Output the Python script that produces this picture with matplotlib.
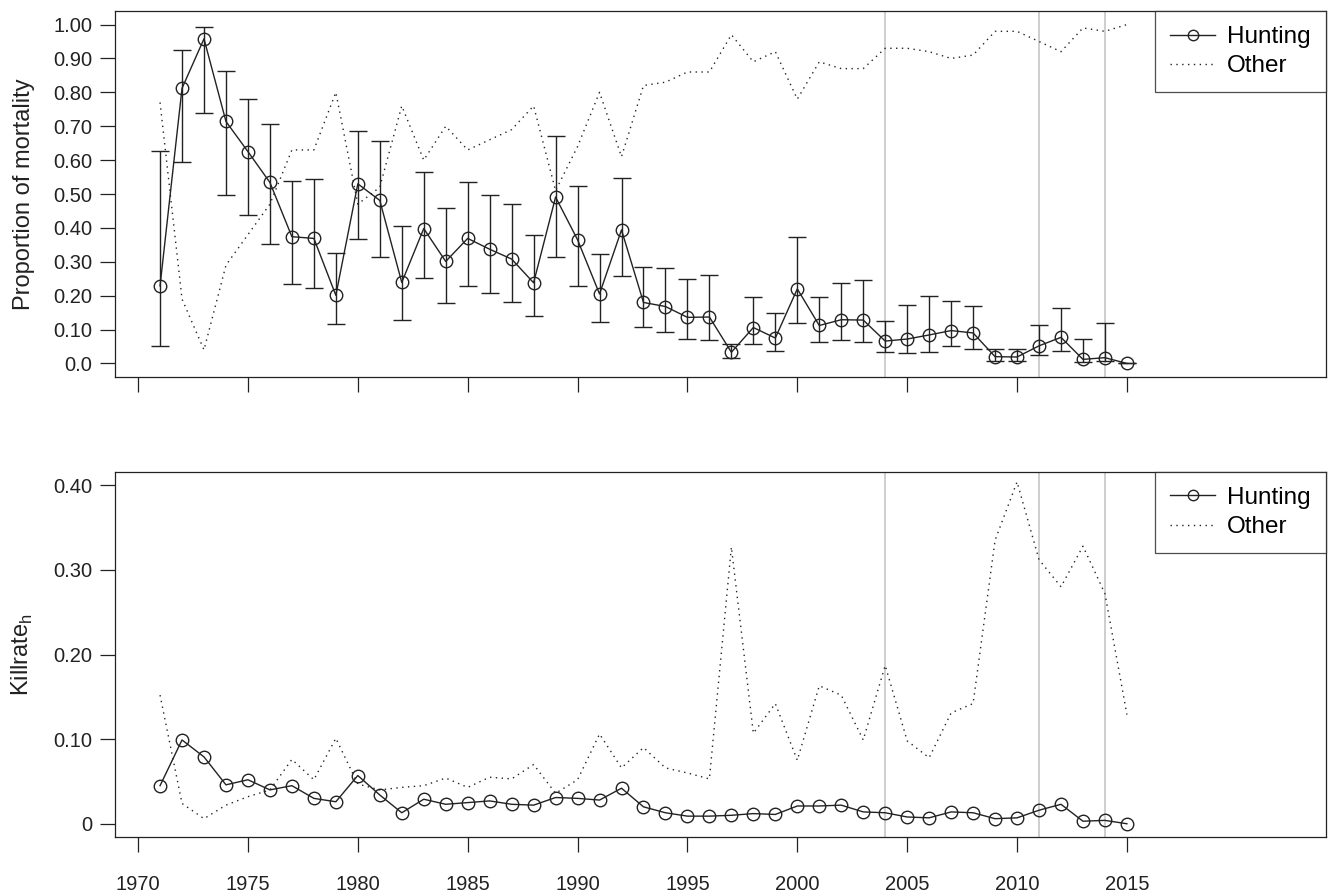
import numpy as np
import matplotlib
matplotlib.use("Agg")
import matplotlib.pyplot as plt

plt.rcParams["font.family"] = ["Liberation Sans", "DejaVu Sans"]

years = np.arange(1971, 2016)

# proportion of mortality due to hunting, with 95% limits
prop_hunt = [0.229, 0.812, 0.958, 0.714, 0.625, 0.534, 0.374, 0.369, 0.201, 0.530,
             0.481, 0.239, 0.398, 0.301, 0.369, 0.337, 0.308, 0.238, 0.491, 0.365,
             0.205, 0.394, 0.180, 0.168, 0.136, 0.137, 0.033, 0.106, 0.075, 0.220,
             0.112, 0.129, 0.128, 0.066, 0.072, 0.084, 0.097, 0.090, 0.020, 0.019,
             0.052, 0.077, 0.012, 0.017, 0.0]
prop_hi = [0.627, 0.926, 0.993, 0.863, 0.779, 0.707, 0.539, 0.544, 0.327, 0.686,
           0.655, 0.406, 0.565, 0.460, 0.534, 0.496, 0.471, 0.380, 0.671, 0.524,
           0.324, 0.548, 0.286, 0.283, 0.249, 0.260, 0.056, 0.195, 0.148, 0.373,
           0.195, 0.237, 0.245, 0.126, 0.173, 0.198, 0.183, 0.169, 0.043, 0.043,
           0.113, 0.163, 0.071, 0.118, 0.0]
prop_lo = [0.051, 0.593, 0.740, 0.498, 0.437, 0.352, 0.235, 0.224, 0.115, 0.367,
           0.313, 0.127, 0.251, 0.179, 0.228, 0.207, 0.181, 0.139, 0.314, 0.230,
           0.121, 0.258, 0.108, 0.093, 0.071, 0.070, 0.017, 0.056, 0.038, 0.119,
           0.062, 0.069, 0.064, 0.034, 0.030, 0.034, 0.051, 0.043, 0.007, 0.007,
           0.025, 0.037, 0.003, 0.006, 0.0]
prop_other = [0.77, 0.19, 0.04, 0.29, 0.38, 0.47, 0.63, 0.63, 0.80, 0.47,
              0.52, 0.76, 0.60, 0.70, 0.63, 0.66, 0.69, 0.76, 0.51, 0.64,
              0.80, 0.61, 0.82, 0.83, 0.86, 0.86, 0.97, 0.89, 0.92, 0.78,
              0.89, 0.87, 0.87, 0.93, 0.93, 0.92, 0.90, 0.91, 0.98, 0.98,
              0.95, 0.92, 0.99, 0.98, 1.00]

# kill rates
kr_hunt = [0.045, 0.099, 0.079, 0.046, 0.052, 0.040, 0.045, 0.030, 0.026, 0.057,
           0.034, 0.013, 0.029, 0.023, 0.025, 0.027, 0.023, 0.022, 0.031, 0.030,
           0.028, 0.042, 0.020, 0.013, 0.009, 0.009, 0.010, 0.012, 0.011, 0.021,
           0.021, 0.022, 0.014, 0.013, 0.008, 0.007, 0.014, 0.013, 0.006, 0.007,
           0.016, 0.023, 0.003, 0.004, 0.0]
kr_other = [0.152, 0.024, 0.006, 0.022, 0.032, 0.040, 0.076, 0.052, 0.101, 0.047,
            0.040, 0.043, 0.045, 0.054, 0.043, 0.055, 0.053, 0.070, 0.036, 0.052,
            0.106, 0.066, 0.090, 0.066, 0.060, 0.053, 0.327, 0.107, 0.142, 0.075,
            0.163, 0.152, 0.099, 0.187, 0.098, 0.078, 0.131, 0.142, 0.335, 0.404,
            0.312, 0.280, 0.328, 0.272, 0.129]

vlines = [2004, 2011, 2014]
xticks = np.arange(1970, 2016, 5)

top_yticks = np.arange(0, 1.01, 0.1)
top_ylabels = ["0.0"] + [f"{v:.2f}" for v in top_yticks[1:]]
bot_yticks = [0, 0.1, 0.2, 0.3, 0.4]
bot_ylabels = ["0", "0.10", "0.20", "0.30", "0.40"]

W, H = 1329, 893
fig = plt.figure(figsize=(W / 100, H / 100), dpi=100, facecolor="white")
ax1 = fig.add_axes([115 / W, 1 - 377 / H, (1326 - 115) / W, (377 - 11) / H])
ax2 = fig.add_axes([115 / W, 1 - 837.3 / H, (1326 - 115) / W, (837.3 - 471.7) / H])

ink = "#222222"
dot = (0, (1, 3.2))


def style(ax, yt, ylab, ylim):
    ax.set_xlim(1968.95, 2024.06)
    ax.set_ylim(*ylim)
    ax.set_xticks(xticks)
    ax.set_yticks(yt)
    ax.set_yticklabels(ylab)
    ax.tick_params(direction="out", length=10.5, width=0.9, labelsize=14.5, colors=ink)
    ax.tick_params(axis="y", pad=6)
    ax.tick_params(axis="x", pad=17)
    for s in ax.spines.values():
        s.set_linewidth(0.9)
        s.set_color(ink)
    for v in vlines:
        ax.axvline(v, color="#c6c6c6", lw=1.2, zorder=0)


def legend(ax):
    h1, = ax.plot([], [], "-o", color=ink, mfc="none", ms=7.5, lw=1)
    h2, = ax.plot([], [], color=ink, lw=1, ls=dot)
    lg = ax.legend([h1, h2], ["Hunting", "Other"], loc="upper right",
                   bbox_to_anchor=(1, 1), borderaxespad=0, fancybox=False,
                   fontsize=17.5, handlelength=1.85, handletextpad=0.5,
                   labelspacing=0.3, borderpad=0.62)
    lg.get_frame().set_edgecolor(ink)
    lg.get_frame().set_linewidth(0.9)


# top panel
ax1.errorbar(years, prop_hunt,
             yerr=[np.array(prop_hunt) - np.array(prop_lo), np.array(prop_hi) - np.array(prop_hunt)],
             fmt="none", ecolor=ink, elinewidth=1, capsize=6.5, capthick=1)
ax1.plot(years, prop_other, color=ink, lw=1, ls=dot)
ax1.plot(years, prop_hunt, "-o", color=ink, mfc="none", ms=9, lw=1)
style(ax1, top_yticks, top_ylabels, (-0.04, 1.04))
ax1.set_xticklabels([])
ax1.set_ylabel("Proportion of mortality", fontsize=17, color=ink)
ax1.yaxis.set_label_coords(-0.066, 0.5)
legend(ax1)

# bottom panel
ax2.plot(years, kr_other, color=ink, lw=1, ls=dot)
ax2.plot(years, kr_hunt, "-o", color=ink, mfc="none", ms=9, lw=1)
style(ax2, bot_yticks, bot_ylabels, (-0.016, 0.416))
ax2.set_xticklabels([str(x) for x in xticks])
ax2.set_ylabel("Killrate$_{\\mathregular{h}}$", fontsize=17, color=ink)
ax2.yaxis.set_label_coords(-0.066, 0.5)
legend(ax2)

fig.savefig("out.png", dpi=100, facecolor="white")
